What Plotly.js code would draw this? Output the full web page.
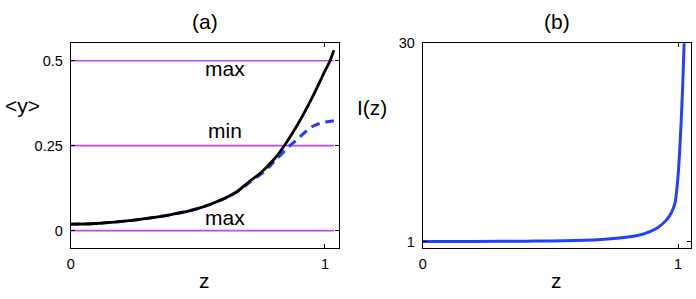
<!DOCTYPE html>
<html><head><meta charset="utf-8">
<script src="https://cdn.plot.ly/plotly-3.0.1.min.js"></script>
<style>html,body{margin:0;padding:0;background:#fff}#plot{width:696px;height:299px}</style>
</head><body><div id="plot"></div>
<script>
// Panel (a): <y> vs z
const zBlack = [0, 0.1, 0.2, 0.3, 0.4, 0.5, 0.6, 0.65, 0.7, 0.75, 0.8, 0.84, 0.9, 0.95, 1.0, 1.02, 1.035];
const yBlack = [0.019, 0.021, 0.027, 0.036, 0.048, 0.065, 0.093, 0.113, 0.143, 0.172, 0.210, 0.250, 0.322, 0.392, 0.470, 0.500, 0.531];
const zBlue = [0, 0.1, 0.2, 0.3, 0.4, 0.5, 0.6, 0.65, 0.7, 0.764, 0.8, 0.862, 0.889, 0.928, 0.954, 0.993, 1.035];
const yBlue = [0.019, 0.021, 0.027, 0.036, 0.048, 0.065, 0.093, 0.112, 0.140, 0.176, 0.203, 0.250, 0.267, 0.294, 0.308, 0.318, 0.3235];
const zLevels = [0, 1.035];
const levelValues = [0.5, 0.25, 0];
const levelLabels = ['max', 'min', 'max'];
const yTicksA = [0, 0.25, 0.5];
const yTickTextA = ['0', '0.25', '0.5'];
// Panel (b): I(z) vs z
const zI = [0, 0.2, 0.4, 0.5, 0.6, 0.7, 0.77, 0.85, 0.89, 0.92, 0.956, 0.975, 0.988, 1.0, 1.006, 1.012, 1.018, 1.023, 1.027];
const Ivals = [1.0, 1.0, 1.04, 1.08, 1.15, 1.28, 1.5, 1.95, 2.45, 3.0, 4.2, 5.3, 6.6, 10.5, 14, 18.3, 23.5, 29, 33];
const xTicks = [0, 1];
const yTicksB = [1, 30];

const purple = '#bb48f2';
const blue = '#2240ff';

const traces = [];
levelValues.forEach(v => traces.push({x: zLevels, y: [v, v], mode: 'lines', line: {color: purple, width: 1.6}, xaxis: 'x', yaxis: 'y', hoverinfo: 'skip'}));
traces.push({x: zBlue, y: yBlue, mode: 'lines', line: {color: blue, width: 3, dash: '9px,6px', shape: 'spline'}, xaxis: 'x', yaxis: 'y'});
traces.push({x: zBlack, y: yBlack, mode: 'lines', line: {color: '#000', width: 2.8, shape: 'spline'}, xaxis: 'x', yaxis: 'y'});
traces.push({x: zI, y: Ivals, mode: 'lines', line: {color: blue, width: 3, shape: 'spline', smoothing: 0.6}, xaxis: 'x2', yaxis: 'y2'});

const font = {family: 'Liberation Sans, Arial, sans-serif', color: '#000'};
const axBase = {showgrid: false, zeroline: false, showline: true, linecolor: '#000', linewidth: 1, mirror: 'allticks', ticks: 'inside', ticklen: 4, tickcolor: '#000', tickfont: Object.assign({size: 14.5}, font)};

function paperText(t, px, py) {
  return {x: px/696, y: 1 - py/299, xref: 'paper', yref: 'paper', xanchor: 'center', yanchor: 'middle', text: t, showarrow: false, font: Object.assign({size: 21}, font)};
}
const annYA = [0.47, 0.288, 0.0335];
const annotations = levelLabels.map((t, i) => ({x: 0.607, y: annYA[i], xref: 'x', yref: 'y', xanchor: 'center', yanchor: 'middle', text: t, showarrow: false, font: Object.assign({size: 21}, font), yshift: 2}));
annotations.push(paperText('(a)', 204.5, 22));
annotations.push(paperText('(b)', 556.5, 22));
annotations.push(paperText('z', 204.5, 280));
annotations.push(paperText('z', 556.5, 280));
annotations.push(paperText('&lt;y&gt;', 22, 105));
annotations.push(paperText('I(z)', 372, 107));

const layout = {
  width: 696, height: 299, margin: {l: 0, r: 0, t: 0, b: 0},
  paper_bgcolor: '#fff', plot_bgcolor: '#fff', showlegend: false,
  xaxis: Object.assign({}, axBase, {domain: [70.7/696, 338.7/696], range: [0, 1.054], tickvals: xTicks, ticktext: ['0', '1'], anchor: 'y', ticklabelstandoff: 2}),
  yaxis: Object.assign({}, axBase, {domain: [1 - 248.3/299, 1 - 42.7/299], range: [-0.052, 0.553], tickvals: yTicksA, ticktext: yTickTextA, anchor: 'x', ticklabelstandoff: 4}),
  xaxis2: Object.assign({}, axBase, {domain: [422.7/696, 691.3/696], range: [0, 1.052], tickvals: xTicks, ticktext: ['0', '1'], anchor: 'y2', ticklabelstandoff: 2}),
  yaxis2: Object.assign({}, axBase, {domain: [1 - 248.3/299, 1 - 43.3/299], range: [0, 30], tickvals: yTicksB, ticktext: ['1', '30'], anchor: 'x2', ticklabelstandoff: 4}),
  annotations: annotations
};
Plotly.newPlot('plot', traces, layout, {displayModeBar: false, staticPlot: true});
</script></body></html>
